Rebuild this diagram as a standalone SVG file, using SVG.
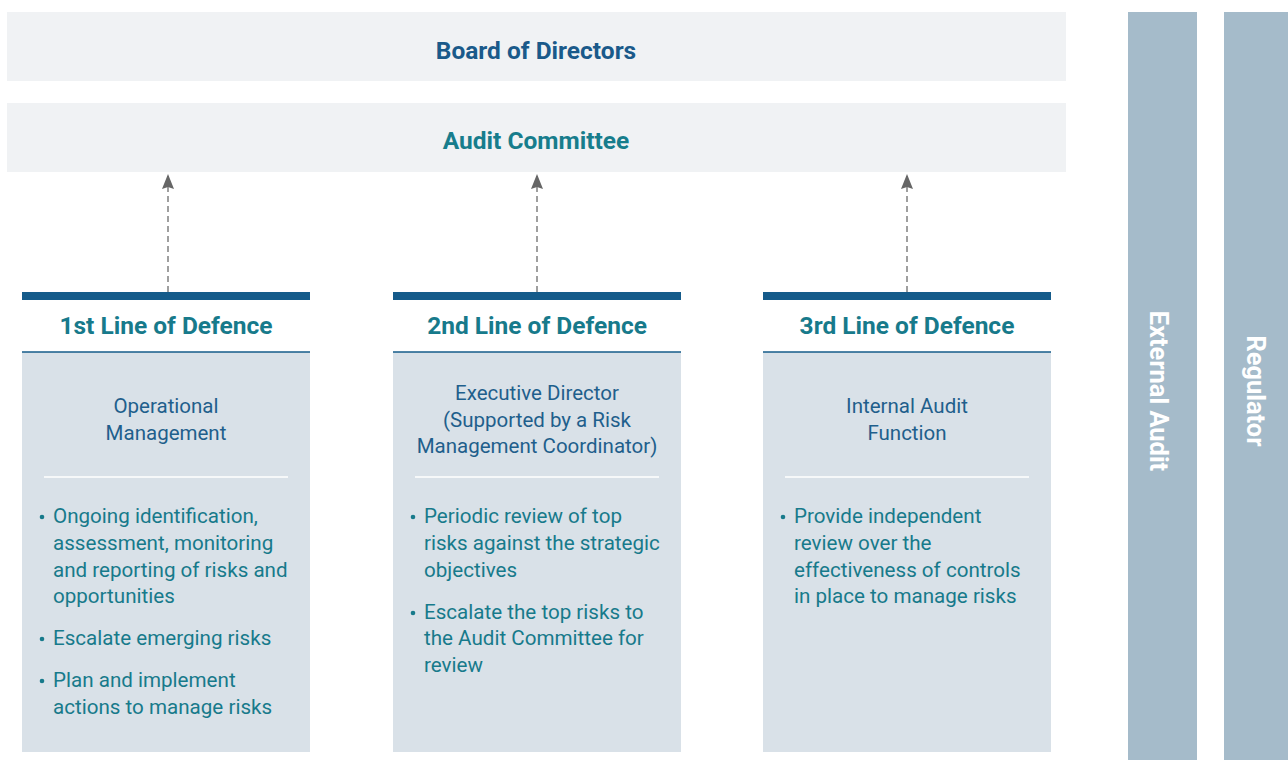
<svg xmlns="http://www.w3.org/2000/svg" width="1288" height="760" viewBox="0 0 1288 760">
<style>
.top{fill:#f0f2f4}
.h1{font-family:Roboto,"Liberation Sans",sans-serif;font-weight:bold;font-size:24.5px;text-anchor:middle}
.lod{font-family:Roboto,"Liberation Sans",sans-serif;font-weight:bold;font-size:24.5px;fill:#177a8b;text-anchor:middle}
.bar{fill:#155b8a}
.thin{stroke:#155b8a;stroke-width:1.5}
.box{fill:#d9e1e8}
.sep{stroke:#ffffff;stroke-width:1.5}
.sub{font-family:Roboto,"Liberation Sans",sans-serif;font-size:20.5px;fill:#1f5f8c;text-anchor:middle}
.bl{font-family:Roboto,"Liberation Sans",sans-serif;font-size:20.6px;fill:#177a8b}
.dot{fill:#177a8b}
.side{fill:#a5bbca}
.st{font-family:Roboto,"Liberation Sans",sans-serif;font-weight:bold;font-size:25.4px;fill:#ffffff;text-anchor:middle}
.conn{stroke:#888888;stroke-width:1.6;stroke-dasharray:6,4;fill:none}
</style>
<defs>
<marker id="ah" viewBox="0 0 15 12" refX="15" refY="6" markerWidth="15" markerHeight="12" markerUnits="userSpaceOnUse" orient="auto">
<path d="M0,0 L15,6 L0,12 L2,6 z" fill="#666666"/>
</marker>
</defs>
<g id="board">
<rect class="top" x="7" y="12" width="1059" height="69"/>
<text class="h1" x="536" y="59" fill="#1a5a8a">Board of Directors</text>
</g>
<g id="audit-committee">
<rect class="top" x="7" y="103" width="1059" height="69"/>
<text class="h1" x="536" y="149" fill="#177d8c">Audit Committee</text>
</g>
<g id="connectors">
<line class="conn" x1="168" y1="292" x2="168" y2="174" marker-end="url(#ah)"/>
<line class="conn" x1="537" y1="292" x2="537" y2="174" marker-end="url(#ah)"/>
<line class="conn" x1="907" y1="292" x2="907" y2="174" marker-end="url(#ah)"/>
</g>
<g id="line1">
<rect class="bar" x="22" y="292" width="288" height="8"/>
<text class="lod" x="166" y="334">1st Line of Defence</text>
<rect class="box" x="22" y="352" width="288" height="400"/>
<line class="thin" x1="22" y1="352" x2="310" y2="352"/>
<text class="sub" x="166" y="413">Operational</text>
<text class="sub" x="166" y="440">Management</text>
<line class="sep" x1="44" y1="477" x2="288" y2="477"/>
<circle class="dot" cx="42" cy="517" r="2.3"/>
<text class="bl" x="53" y="523">Ongoing identification,</text>
<text class="bl" x="53" y="550">assessment, monitoring</text>
<text class="bl" x="53" y="577">and reporting of risks and</text>
<text class="bl" x="53" y="603">opportunities</text>
<circle class="dot" cx="42" cy="639" r="2.3"/>
<text class="bl" x="53" y="645">Escalate emerging risks</text>
<circle class="dot" cx="42" cy="681" r="2.3"/>
<text class="bl" x="53" y="687">Plan and implement</text>
<text class="bl" x="53" y="714">actions to manage risks</text>
</g>
<g id="line2">
<rect class="bar" x="393" y="292" width="288" height="8"/>
<text class="lod" x="537" y="334">2nd Line of Defence</text>
<rect class="box" x="393" y="352" width="288" height="400"/>
<line class="thin" x1="393" y1="352" x2="681" y2="352"/>
<text class="sub" x="537" y="400">Executive Director</text>
<text class="sub" x="537" y="426.5">(Supported by a Risk</text>
<text class="sub" x="537" y="453">Management Coordinator)</text>
<line class="sep" x1="415" y1="477" x2="659" y2="477"/>
<circle class="dot" cx="413" cy="517" r="2.3"/>
<text class="bl" x="424" y="523">Periodic review of top</text>
<text class="bl" x="424" y="550">risks against the strategic</text>
<text class="bl" x="424" y="577">objectives</text>
<circle class="dot" cx="413" cy="613" r="2.3"/>
<text class="bl" x="424" y="619">Escalate the top risks to</text>
<text class="bl" x="424" y="645">the Audit Committee for</text>
<text class="bl" x="424" y="672">review</text>
</g>
<g id="line3">
<rect class="bar" x="763" y="292" width="288" height="8"/>
<text class="lod" x="907" y="334">3rd Line of Defence</text>
<rect class="box" x="763" y="352" width="288" height="400"/>
<line class="thin" x1="763" y1="352" x2="1051" y2="352"/>
<text class="sub" x="907" y="413">Internal Audit</text>
<text class="sub" x="907" y="440">Function</text>
<line class="sep" x1="785" y1="477" x2="1029" y2="477"/>
<circle class="dot" cx="783" cy="517" r="2.3"/>
<text class="bl" x="794" y="523">Provide independent</text>
<text class="bl" x="794" y="549.5">review over the</text>
<text class="bl" x="794" y="577">effectiveness of controls</text>
<text class="bl" x="794" y="603">in place to manage risks</text>
</g>
<g id="external-audit">
<rect class="side" x="1128" y="12" width="69" height="748"/>
<text class="st" transform="translate(1150,391) rotate(90)">External Audit</text>
</g>
<g id="regulator">
<rect class="side" x="1224" y="12" width="64" height="748"/>
<text class="st" transform="translate(1247,391) rotate(90)">Regulator</text>
</g>
</svg>
